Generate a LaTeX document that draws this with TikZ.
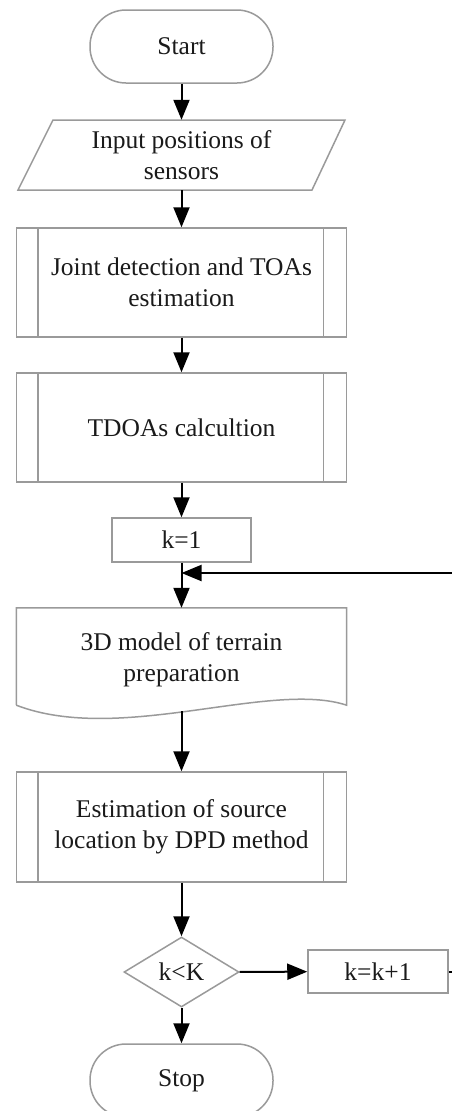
\documentclass[tikz,border=0pt]{standalone}
\usepackage{fontspec}
\setmainfont{Liberation Serif}
\usetikzlibrary{arrows.meta,shapes.geometric}
\definecolor{boxgray}{HTML}{9A9A9A}
\definecolor{txt}{HTML}{1A1A1A}
\tikzset{
  every node/.style={text=txt, font=\fontsize{25.5}{31}\selectfont, align=center, inner sep=0pt},
  boxline/.style={draw=boxgray, line width=1.5pt},
  terminal/.style={boxline, rectangle, rounded corners=36pt, minimum width=183pt, minimum height=73pt},
  procbox/.style={boxline, rectangle, minimum width=330pt, minimum height=109pt},
  plainbox/.style={boxline, rectangle},
  ghost/.style={rectangle},
  decision/.style={boxline, diamond, minimum width=115pt, minimum height=70pt, aspect=1.64},
  flow/.style={draw=black, line width=2pt, -{Triangle[length=20pt,width=16pt]}},
}
\newcommand{\subproc}[1]{%
  \draw[boxline] ([xshift=22pt]#1.north west) -- ([xshift=22pt]#1.south west);
  \draw[boxline] ([xshift=-24pt]#1.north east) -- ([xshift=-24pt]#1.south east);}
\begin{document}
\begin{tikzpicture}[x=1pt,y=-1pt]
\useasboundingbox[fill=white] (0,0) rectangle (452,1111);

\node[terminal] (start) at (181.5,46.5) {Start};

\node[ghost, minimum width=292pt, minimum height=70pt] (input) at (181.5,155) {Input positions of\\sensors};
\draw[boxline] (53,120) -- (345,120) -- (312,190) -- (18,190) -- cycle;

\node[procbox] (joint) at (181.5,282.5) {Joint detection and TOAs\\estimation};
\subproc{joint}

\node[procbox] (tdoa) at (181.5,427.5) {TDOAs calcultion};
\subproc{tdoa}

\node[plainbox, minimum width=139pt, minimum height=44pt] (k1) at (181.5,540) {k=1};
\coordinate (merge) at (181.5,573);

\node[ghost, minimum width=330pt, minimum height=103pt] (terrain) at (181.5,659.5) {3D model of terrain\\preparation};
\draw[boxline] ([yshift=6pt]terrain.south west) -- (terrain.north west) -- (terrain.north east) -- ([yshift=6pt]terrain.south east)
  .. controls (270,680) and (120,745) .. ([yshift=6pt]terrain.south west);

\node[procbox, minimum height=110pt] (dpd) at (181.5,827) {Estimation of source\\location by DPD method};
\subproc{dpd}

\node[decision] (dec) at (181.5,972) {k\textless K};

\node[plainbox, minimum width=140pt, minimum height=43pt] (kk) at (378,971.5) {k=k+1};

\node[terminal] (stop) at (181.5,1080.5) {Stop};

\draw[flow] (start) -- (input.north);
\draw[flow] (input.south) -- (joint);
\draw[flow] (joint) -- (tdoa);
\draw[flow] (tdoa) -- (k1);
\draw[flow] (k1) -- (terrain.north);
\draw[flow] (terrain.south) -- (dpd);
\draw[flow] (dpd) -- (dec);
\draw[flow] (dec) -- (kk);
\draw[flow] (dec) -- (stop);
\draw[flow] (kk.east) -- ++(12,0) |- (merge);
\end{tikzpicture}
\end{document}
